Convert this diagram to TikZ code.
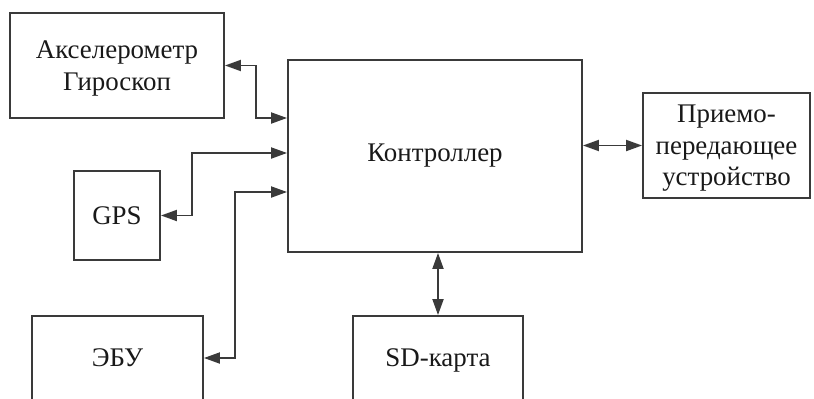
\documentclass[tikz,border=0pt]{standalone}
\usepackage{fontspec}
\setmainfont{Liberation Serif}
\usetikzlibrary{arrows.meta,calc}
\definecolor{ln}{HTML}{3A3A3A}
\tikzset{
  blk/.style={draw=ln, line width=1.9bp, inner sep=0pt, align=center, text=black!90, font=\fontsize{27}{31.5}\selectfont},
  arr/.style={draw=ln, line width=1.9bp, {Triangle[length=16bp,width=11bp]}-{Triangle[length=16bp,width=11bp]}},
}
\begin{document}
\begin{tikzpicture}[x=1bp,y=-1bp]
\useasboundingbox (0,0) rectangle (814,398);
\fill[white] (0,0) rectangle (814,398);
\clip (0,0) rectangle (814,398);
\node[blk, minimum width=214bp, minimum height=105bp, text depth=0pt] (acc) at (117,65.5) {Акселерометр\\Гироскоп};
\node[blk, minimum width=294bp, minimum height=192bp] (ctrl) at (435,156) {Контроллер};
\node[blk, minimum width=167bp, minimum height=105bp, text depth=0pt] (tr) at (726.5,145.5) {Приемо-\\передающее\\устройство};
\node[blk, minimum width=86bp, minimum height=89bp] (gps) at (117,215.5) {GPS};
\node[blk, minimum width=171bp, minimum height=84bp] (ebu) at (117.5,358) {ЭБУ};
\node[blk, minimum width=170bp, minimum height=88bp] (sd) at (438,360) {SD-карта};
\coordinate (y1) at (0,118);
\coordinate (y2) at (0,153);
\coordinate (y3) at (0,192);
\coordinate (x1) at (256,0);
\coordinate (x2) at (192,0);
\coordinate (x3) at (235,0);
\draw[arr] (acc.east) -- (acc.east -| x1) -- (x1 |- y1) -- (ctrl.west |- y1);
\draw[arr] (gps.east) -- (gps.east -| x2) -- (x2 |- y2) -- (ctrl.west |- y2);
\draw[arr] (ebu.east) -- (ebu.east -| x3) -- (x3 |- y3) -- (ctrl.west |- y3);
\draw[arr] (ctrl.east |- tr.west) -- (tr.west);
\draw[arr] (ctrl.south -| sd.north) -- (sd.north);
\end{tikzpicture}
\end{document}
